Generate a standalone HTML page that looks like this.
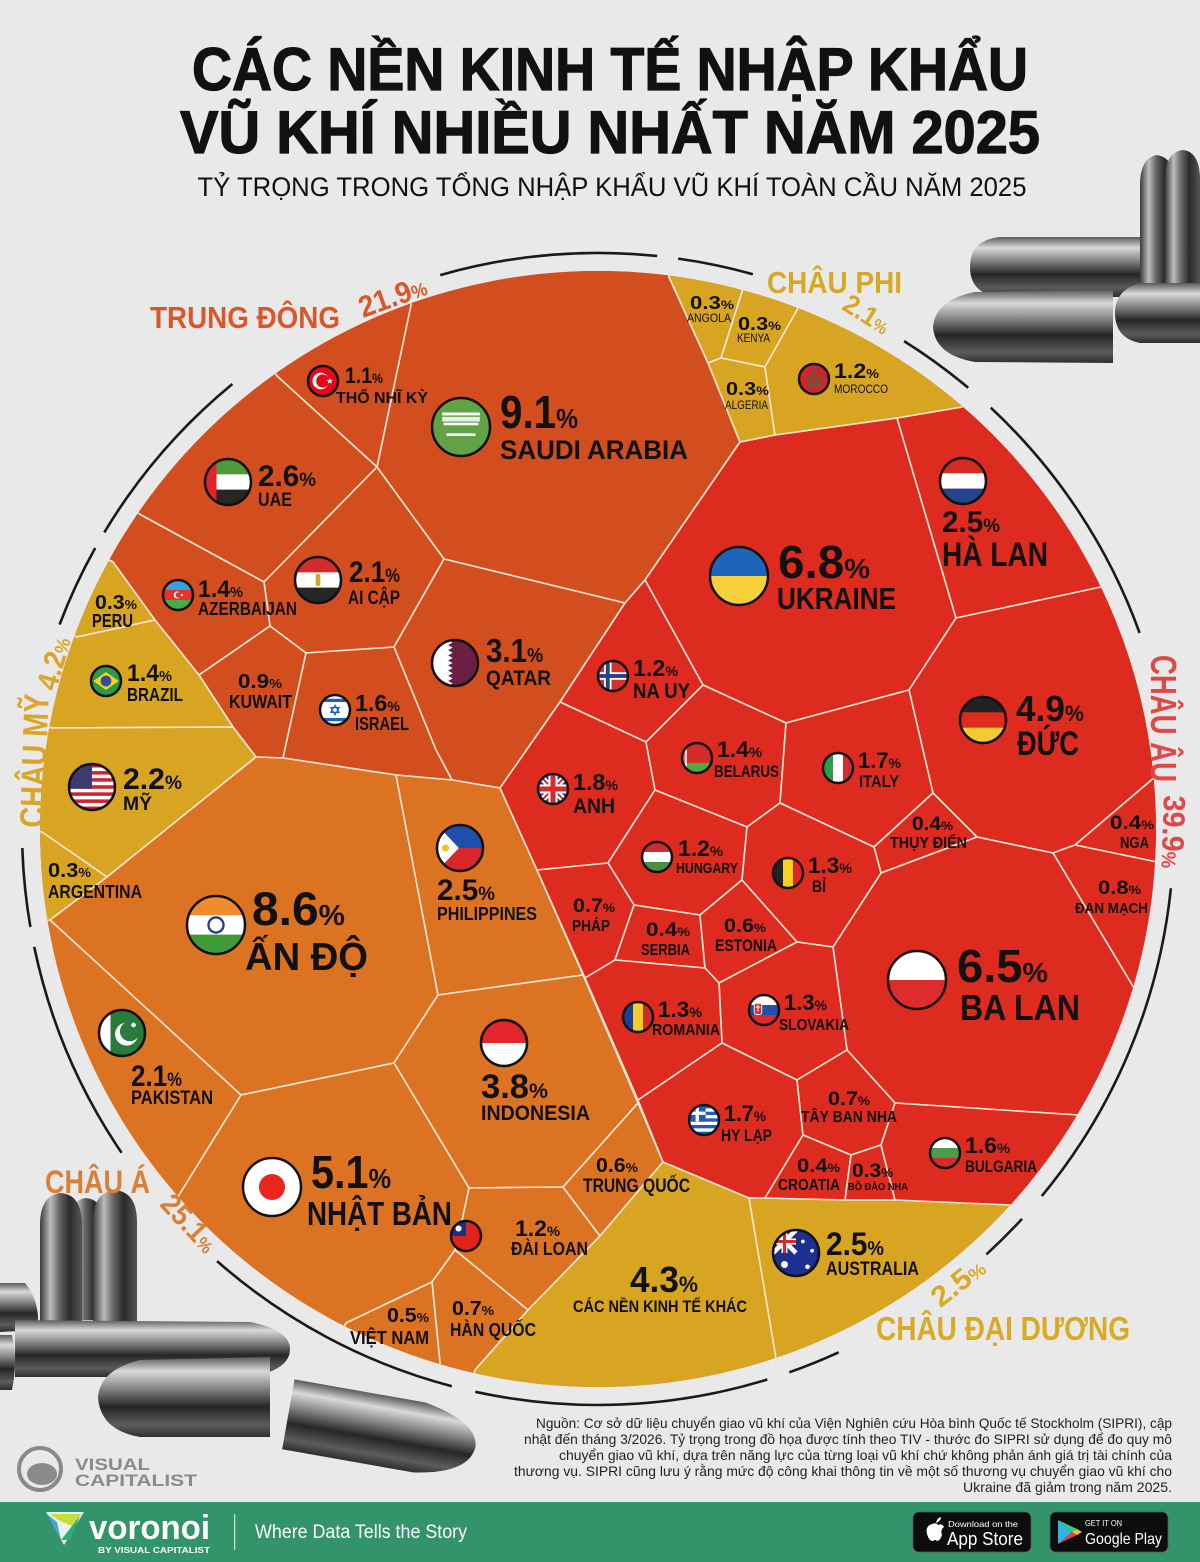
<!DOCTYPE html>
<html><head><meta charset="utf-8">
<style>
html,body{margin:0;padding:0;background:#e9e9e9;width:1200px;height:1562px;overflow:hidden;}
svg{display:block;}
.b{font-family:"Liberation Sans",sans-serif;font-weight:700;fill:#111;}
.t{font-family:"Liberation Sans",sans-serif;font-weight:400;fill:#111;}
.cell{stroke:#f7e6d4;stroke-width:1.6;stroke-linejoin:round;}
.me{fill:#d24e1f;}
.eu{fill:#de2b20;}
.as{fill:#db7323;}
.gd{fill:#d7a521;}
.fo{fill:none;stroke:#111;stroke-width:2.5;}
.arc{fill:none;stroke:#1a1a1a;stroke-width:2.6;}
</style></head>
<body>
<svg width="1200" height="1562" viewBox="0 0 1200 1562" xmlns="http://www.w3.org/2000/svg" overflow="hidden">
<defs>
<clipPath id="circ"><circle cx="598" cy="829" r="558"/></clipPath>
<clipPath id="cf"><circle r="10"/></clipPath>
<linearGradient id="bh" x1="0" y1="0" x2="0" y2="1">
<stop offset="0" stop-color="#5a5a5a"/><stop offset="0.18" stop-color="#d9d9d9"/><stop offset="0.38" stop-color="#8a8a8a"/><stop offset="0.62" stop-color="#262626"/><stop offset="0.85" stop-color="#5c5c5c"/><stop offset="1" stop-color="#2e2e2e"/>
</linearGradient>
<linearGradient id="bv" x1="0" y1="0" x2="1" y2="0">
<stop offset="0" stop-color="#3a3a3a"/><stop offset="0.25" stop-color="#bdbdbd"/><stop offset="0.45" stop-color="#6a6a6a"/><stop offset="0.7" stop-color="#2a2a2a"/><stop offset="1" stop-color="#555"/>
</linearGradient>
</defs>

<rect width="1200" height="1562" fill="#e9e9e9"/>

<!-- Title -->
<text class="b" x="610" y="90" font-size="60" text-anchor="middle" textLength="836" lengthAdjust="spacingAndGlyphs" stroke="#111" stroke-width="1.2">CÁC NỀN KINH TẾ NHẬP KHẨU</text>
<text class="b" x="610" y="153" font-size="60" text-anchor="middle" textLength="860" lengthAdjust="spacingAndGlyphs" stroke="#111" stroke-width="1.2">VŨ KHÍ NHIỀU NHẤT NĂM 2025</text>
<text class="t" x="612" y="196" font-size="27" text-anchor="middle" textLength="829" lengthAdjust="spacingAndGlyphs" fill="#1a1a1a">TỶ TRỌNG TRONG TỔNG NHẬP KHẨU VŨ KHÍ TOÀN CẦU NĂM 2025</text>

<!-- Bullets top right -->
<g>
<path d="M1140,290 L1140,185 Q1140,158 1157,155 Q1175,158 1175,185 L1175,290 Z" fill="url(#bv)"/>
<path d="M1165,290 L1165,180 Q1165,152 1183,150 Q1200,152 1200,180 L1200,290 Z" fill="url(#bv)"/>
<path d="M1140,237 L1000,237 Q970,240 970,267 Q970,294 1000,297 L1140,297 Z" fill="url(#bh)"/>
<path d="M1200,283 L1140,283 Q1115,290 1115,313 Q1115,338 1140,343 L1200,343 Z" fill="url(#bh)"/>
<path d="M1113,290 L975,292 Q935,300 933,327 Q935,355 975,362 L1113,363 Z" fill="url(#bh)"/>
</g>

<!-- Bullets bottom left -->
<g>
<path d="M68,1320 L68,1228 Q68,1200 86,1198 Q105,1200 105,1228 L105,1320 Z" fill="url(#bv)"/>
<path d="M40,1325 L40,1225 Q40,1195 61,1193 Q82,1195 82,1225 L82,1325 Z" fill="url(#bv)"/>
<path d="M93,1325 L93,1222 Q93,1192 115,1190 Q137,1192 137,1222 L137,1325 Z" fill="url(#bv)"/>
<path d="M0,1283 L25,1283 Q40,1300 38,1330 L0,1332 Z" fill="url(#bh)"/>
<path d="M0,1335 L12,1335 Q18,1360 12,1390 L0,1390 Z" fill="url(#bh)"/>
<path d="M15,1320 L250,1322 Q290,1330 290,1349 Q290,1370 250,1377 L15,1377 Z" fill="url(#bh)"/>
<path d="M270,1357 L140,1360 Q100,1370 98,1397 Q100,1430 140,1437 L270,1437 Z" fill="url(#bh)"/>
<g transform="rotate(10 380 1430)"><path d="M287,1395 L420,1395 Q475,1405 477,1430 Q475,1458 420,1466 L287,1466 Z" fill="url(#bh)"/></g>
</g>

<!-- Voronoi cells -->
<g clip-path="url(#circ)">
<circle cx="598" cy="829" r="558" fill="#de2b20"/>
<!-- Middle East -->
<polygon class="cell me" points="411,305 377,467 444,559 625,603 645,580 740,442 708,363 669,277 683.2,166.6 373.6,200.2"/>
<polygon class="cell me" points="277,376 377,467 411,305 373.6,200.2 212.8,285.4"/>
<polygon class="cell me" points="141,515 264,582 377,467 277,376 212.8,285.4 49.6,452.2"/>
<polygon class="cell me" points="264,582 377,467 444,559 394,647 306,653 270,626"/>
<polygon class="cell me" points="113,562 155,620 199,675 270,626 264,582 141,515 49.6,452.2 16,508.6"/>
<polygon class="cell me" points="444,559 625,603 560,702 500,788 452,780 436,750 394,647"/>
<polygon class="cell me" points="199,675 270,626 306,653 283,758 256,757 233,727"/>
<polygon class="cell me" points="306,653 394,647 436,750 452,780 396,775 283,758"/>
<!-- Americas -->
<polygon class="cell gd" points="77,637 155,620 113,562 16,508.6 -27.2,598.6"/>
<polygon class="cell gd" points="52,728 233,727 199,675 155,620 77,637 -27.2,598.6 -57.2,707.8"/>
<polygon class="cell gd" points="42,832 107,877 256,757 233,727 52,728 -57.2,707.8 -69.2,832.6"/>
<polygon class="cell gd" points="50,920 107,877 42,832 -69.2,832.6 -59.6,938.2"/>
<!-- Asia -->
<polygon class="cell as" points="50,920 107,877 256,757 283,758 396,775 438,995 394,1063 241,1095"/>
<polygon class="cell as" points="176,1200 241,1095 50,920 -59.6,938.2 91.6,1274.2"/>
<polygon class="cell as" points="396,775 452,780 500,788 537,870 583,975 438,995"/>
<polygon class="cell as" points="438,995 583,975 638,1103 563,1187 469,1188 394,1063"/>
<polygon class="cell as" points="241,1095 394,1063 469,1188 459,1235 455,1250 432,1282 346,1323 295.6,1421.8 91.6,1274.2 176,1200"/>
<polygon class="cell as" points="469,1188 563,1187 600,1236 528,1310 455,1250 459,1235"/>
<polygon class="cell as" points="563,1187 638,1103 663,1162 600,1236"/>
<polygon class="cell as" points="455,1250 528,1310 475,1370 450.4,1478.2 408.4,1469.8 440,1363 432,1282"/>
<polygon class="cell as" points="432,1282 440,1363 408.4,1469.8 295.6,1421.8 346,1323"/>
<!-- Other + Oceania -->
<polygon class="cell gd" points="663,1162 749,1198 776,1358 811.6,1463.8 450.4,1478.2 475,1370 528,1310 600,1236"/>
<polygon class="cell gd" points="749,1198 765,1198 845,1200 895,1200 1011,1205 1093.6,1280.2 811.6,1463.8 776,1358"/>
<!-- Europe -->
<polygon class="cell eu" points="740,442 775,435 897,418 956,618 909,690 786,723 703,685 645,580"/>
<polygon class="cell eu" points="897,418 962,407 1034.8,322.6 1201.6,538.6 1101,587 956,618"/>
<polygon class="cell eu" points="956,618 1101,587 1201.6,538.6 1266.4,766.6 1155,777 1075,845 1053,853 977,837 933,793 909,690"/>
<polygon class="cell eu" points="645,580 703,685 646,742 560,702 625,603"/>
<polygon class="cell eu" points="560,702 646,742 655,790 608,863 537,870 500,788"/>
<polygon class="cell eu" points="703,685 786,723 780,803 747,827 655,790 646,742"/>
<polygon class="cell eu" points="786,723 909,690 933,793 874,847 780,803"/>
<polygon class="cell eu" points="933,793 977,837 881,873 874,847"/>
<polygon class="cell eu" points="1075,845 1155,777 1266.4,766.6 1268.8,868.6 1157,862"/>
<polygon class="cell eu" points="1075,845 1157,862 1268.8,868.6 1241.2,1019.8 1134,988 1053,853"/>
<polygon class="cell eu" points="977,837 1053,853 1134,988 1241.2,1019.8 1174,1172.2 1078,1115 895,1103 847,1050 833,947 881,873"/>
<polygon class="cell eu" points="655,790 747,827 742,880 700,915 634,905 608,863"/>
<polygon class="cell eu" points="780,803 874,847 881,873 833,947 797,942 742,880 747,827"/>
<polygon class="cell eu" points="537,870 608,863 634,905 615,960 585,978"/>
<polygon class="cell eu" points="634,905 700,915 705,968 615,960"/>
<polygon class="cell eu" points="700,915 742,880 797,942 719,983 705,968"/>
<polygon class="cell eu" points="797,942 833,947 847,1050 797,1080 722,1043 719,983"/>
<polygon class="cell eu" points="585,978 615,960 705,968 719,983 722,1043 638,1100"/>
<polygon class="cell eu" points="638,1100 722,1043 797,1080 803,1135 765,1198 749,1198 663,1162"/>
<polygon class="cell eu" points="797,1080 847,1050 895,1103 881,1145 851,1155 803,1135"/>
<polygon class="cell eu" points="803,1135 851,1155 845,1200 765,1198"/>
<polygon class="cell eu" points="851,1155 881,1145 895,1200 845,1200"/>
<polygon class="cell eu" points="895,1103 1078,1115 1174,1172.2 1093.6,1280.2 1011,1205 895,1200 881,1145"/>
<!-- Africa -->
<polygon class="cell gd" points="669,277 708,363 721,358 742,292 770.8,184.6 683.2,166.6"/>
<polygon class="cell gd" points="742,292 721,358 765,367 797,310 836.8,206.2 770.8,184.6"/>
<polygon class="cell gd" points="708,363 721,358 765,367 775,435 740,442"/>
<polygon class="cell gd" points="797,310 765,367 775,435 897,418 962,407 1034.8,322.6 836.8,206.2"/>
</g>

<!-- Outer arcs -->
<g class="arc">
<path d="M440.2,275.1 A576,576 0 0 1 657.2,256.0"/>
<path d="M678.2,258.6 A576,576 0 0 1 752.9,274.2"/>
<path d="M904.1,341.1 A576,576 0 0 1 968.2,387.8"/>
<path d="M990.8,407.7 A576,576 0 0 1 1139.6,632.9"/>
<path d="M1170.9,888.2 A576,576 0 0 1 1041.8,1196.1"/>
<path d="M1022.0,1218.9 A576,576 0 0 1 986.4,1254.4"/>
<path d="M838.7,1352.3 A576,576 0 0 1 789.3,1372.3"/>
<path d="M767.3,1379.5 A576,576 0 0 1 475.3,1391.8"/>
<path d="M451.8,1386.2 A576,576 0 0 1 217.1,1261.1"/>
<path d="M121.6,1152.8 A576,576 0 0 1 34.2,946.8"/>
<path d="M30.4,927.0 A576,576 0 0 1 22.3,848.1"/>
<path d="M59.6,624.5 A576,576 0 0 1 95.2,548.0"/>
<path d="M104.3,532.4 A576,576 0 0 1 232.4,384.0"/>
</g>

<!-- Region labels -->
<text class="b" x="150" y="328" font-size="31" style="fill:#d9582b" textLength="190" lengthAdjust="spacingAndGlyphs">TRUNG ĐÔNG</text>
<text class="b" transform="translate(396,306) rotate(-20)" font-size="30" style="fill:#d9582b" text-anchor="middle" textLength="70" lengthAdjust="spacingAndGlyphs">21.9<tspan font-size="19">%</tspan></text>
<text class="b" x="767" y="293" font-size="31" style="fill:#d8a824" textLength="135" lengthAdjust="spacingAndGlyphs">CHÂU PHI</text>
<text class="b" transform="translate(862,322) rotate(32)" font-size="27" style="fill:#d8a824" text-anchor="middle" textLength="50" lengthAdjust="spacingAndGlyphs">2.1<tspan font-size="17">%</tspan></text>
<text class="b" transform="translate(1151,655) rotate(90)" font-size="36" style="fill:#e04848" textLength="127" lengthAdjust="spacingAndGlyphs">CHÂU ÂU</text>
<text class="b" transform="translate(1164,795) rotate(92)" font-size="31" style="fill:#e04848" textLength="73" lengthAdjust="spacingAndGlyphs">39.9<tspan font-size="20">%</tspan></text>
<text class="b" transform="translate(44,828) rotate(-88)" font-size="35" style="fill:#d9a62a" textLength="134" lengthAdjust="spacingAndGlyphs">CHÂU MỸ</text>
<text class="b" transform="translate(56,692) rotate(-74)" font-size="30" style="fill:#d9a62a" textLength="54" lengthAdjust="spacingAndGlyphs">4.2<tspan font-size="19">%</tspan></text>
<text class="b" x="45" y="1193" font-size="32" style="fill:#d7803a" textLength="105" lengthAdjust="spacingAndGlyphs">CHÂU Á</text>
<text class="b" transform="translate(182,1230) rotate(47)" font-size="29" style="fill:#d7803a" text-anchor="middle" textLength="68" lengthAdjust="spacingAndGlyphs">25.1<tspan font-size="18">%</tspan></text>
<text class="b" transform="translate(964,1290) rotate(-38)" font-size="29" style="fill:#d9aa24" text-anchor="middle" textLength="60" lengthAdjust="spacingAndGlyphs">2.5<tspan font-size="18">%</tspan></text>
<text class="b" x="876" y="1340" font-size="33" style="fill:#d9aa24" textLength="254" lengthAdjust="spacingAndGlyphs">CHÂU ĐẠI DƯƠNG</text>

<!-- Flags -->
<g>
<g transform="translate(323,381)"><g transform="scale(1.5)" clip-path="url(#cf)"><rect x="-10" y="-10" width="20" height="20" fill="#e30a17"/><circle cx="-1.5" r="5.5" fill="#fff"/><circle cx="-0.2" r="4.4" fill="#e30a17"/><polygon points="4.5,-2 5.1,-0.6 6.6,-0.6 5.4,0.3 5.9,1.8 4.5,0.9 3.1,1.8 3.6,0.3 2.4,-0.6 3.9,-0.6" fill="#fff"/></g><circle r="15" class="fo"/></g>
<g transform="translate(461,427)"><g transform="scale(2.9)" clip-path="url(#cf)"><rect x="-10" y="-10" width="20" height="20" fill="#62a246"/><rect x="-6.5" y="-5" width="13" height="1" fill="#fff"/><rect x="-6.5" y="-3.5" width="13" height="1.6" fill="#fff" opacity=".85"/><rect x="-6" y="-1.5" width="12" height="0.9" fill="#fff"/><rect x="-5" y="2.2" width="10" height="0.9" fill="#fff"/></g><circle r="29" class="fo"/></g>
<g transform="translate(228,482)"><g transform="scale(2.3)" clip-path="url(#cf)"><rect x="-10" y="-10" width="20" height="6.7" fill="#4e9a3a"/><rect x="-10" y="-3.33" width="20" height="6.7" fill="#fff"/><rect x="-10" y="3.33" width="20" height="6.7" fill="#262626"/><rect x="-10" y="-10" width="5" height="20" fill="#e0262b"/></g><circle r="23" class="fo"/></g>
<g transform="translate(318,580)"><g transform="scale(2.3)" clip-path="url(#cf)"><rect x="-10" y="-10" width="20" height="6.7" fill="#d52b2b"/><rect x="-10" y="-3.33" width="20" height="6.7" fill="#fff"/><rect x="-10" y="3.33" width="20" height="6.7" fill="#262626"/><rect x="-1" y="-2.5" width="2" height="5" fill="#d4a52a"/></g><circle r="23" class="fo"/></g>
<g transform="translate(178,595)"><g transform="scale(1.5)" clip-path="url(#cf)"><rect x="-10" y="-10" width="20" height="6.7" fill="#3b9fd9"/><rect x="-10" y="-3.33" width="20" height="6.7" fill="#e3342b"/><rect x="-10" y="3.33" width="20" height="6.7" fill="#4aab47"/><circle cx="-0.5" r="2.4" fill="#fff"/><circle cx="0.3" r="1.9" fill="#e3342b"/><circle cx="2.6" r="0.8" fill="#fff"/></g><circle r="15" class="fo"/></g>
<g transform="translate(455,663)"><g transform="scale(2.3)" clip-path="url(#cf)"><rect x="-10" y="-10" width="20" height="20" fill="#6b1f43"/><polygon points="-10,-10 -3,-10 -1,-8.9 -3,-7.8 -1,-6.7 -3,-5.6 -1,-4.4 -3,-3.3 -1,-2.2 -3,-1.1 -1,0 -3,1.1 -1,2.2 -3,3.3 -1,4.4 -3,5.6 -1,6.7 -3,7.8 -1,8.9 -3,10 -10,10" fill="#fff"/></g><circle r="23" class="fo"/></g>
<g transform="translate(106,681)"><g transform="scale(1.5)" clip-path="url(#cf)"><rect x="-10" y="-10" width="20" height="20" fill="#2a9a48"/><polygon points="-8.5,0 0,-6 8.5,0 0,6" fill="#f5d31e"/><circle r="3.6" fill="#2f4fa0"/></g><circle r="15" class="fo"/></g>
<g transform="translate(335,710)"><g transform="scale(1.5)" clip-path="url(#cf)"><rect x="-10" y="-10" width="20" height="20" fill="#fff"/><rect x="-10" y="-7.5" width="20" height="2.2" fill="#1f5fbf"/><rect x="-10" y="5.3" width="20" height="2.2" fill="#1f5fbf"/><polygon points="0,-3.2 2.8,1.6 -2.8,1.6" fill="none" stroke="#1f5fbf" stroke-width="0.8"/><polygon points="0,3.2 2.8,-1.6 -2.8,-1.6" fill="none" stroke="#1f5fbf" stroke-width="0.8"/></g><circle r="15" class="fo"/></g>
<g transform="translate(92,787)"><g transform="scale(2.3)" clip-path="url(#cf)"><rect x="-10" y="-10" width="20" height="20" fill="#fff"/><rect x="-10" y="-10" width="20" height="1.54" fill="#d0232e"/><rect x="-10" y="-6.92" width="20" height="1.54" fill="#d0232e"/><rect x="-10" y="-3.85" width="20" height="1.54" fill="#d0232e"/><rect x="-10" y="-0.77" width="20" height="1.54" fill="#d0232e"/><rect x="-10" y="2.31" width="20" height="1.54" fill="#d0232e"/><rect x="-10" y="5.38" width="20" height="1.54" fill="#d0232e"/><rect x="-10" y="8.46" width="20" height="1.54" fill="#d0232e"/><rect x="-10" y="-10" width="10" height="10.77" fill="#3c3b6e"/></g><circle r="23" class="fo"/></g>
<g transform="translate(216,925)"><g transform="scale(2.9)" clip-path="url(#cf)"><rect x="-10" y="-10" width="20" height="6.7" fill="#f08b2e"/><rect x="-10" y="-3.33" width="20" height="6.7" fill="#fff"/><rect x="-10" y="3.33" width="20" height="6.7" fill="#3e9b38"/><circle r="2.6" fill="none" stroke="#1f3c8c" stroke-width="0.8"/></g><circle r="29" class="fo"/></g>
<g transform="translate(460,848)"><g transform="scale(2.3)" clip-path="url(#cf)"><rect x="-10" y="-10" width="20" height="10" fill="#1f4fa8"/><rect x="-10" y="0" width="20" height="10" fill="#d8262b"/><polygon points="-10,-10 -0.5,0 -10,10" fill="#fff"/><circle cx="-6.3" r="1.6" fill="#f2c420"/></g><circle r="23" class="fo"/></g>
<g transform="translate(122,1033)"><g transform="scale(2.3)" clip-path="url(#cf)"><rect x="-10" y="-10" width="20" height="20" fill="#2a7a3a"/><rect x="-10" y="-10" width="5" height="20" fill="#fff"/><circle cx="2" cy="0.5" r="5" fill="#fff"/><circle cx="3.4" cy="-0.7" r="4.3" fill="#2a7a3a"/><circle cx="5" cy="-3.5" r="1" fill="#fff"/></g><circle r="23" class="fo"/></g>
<g transform="translate(504,1043)"><g transform="scale(2.3)" clip-path="url(#cf)"><rect x="-10" y="-10" width="20" height="10" fill="#e3262b"/><rect x="-10" y="0" width="20" height="10" fill="#fff"/></g><circle r="23" class="fo"/></g>
<g transform="translate(272,1187)"><g transform="scale(2.9)" clip-path="url(#cf)"><rect x="-10" y="-10" width="20" height="20" fill="#fff"/><circle r="4.5" fill="#e8261f"/></g><circle r="29" class="fo"/></g>
<g transform="translate(466,1236)"><g transform="scale(1.5)" clip-path="url(#cf)"><rect x="-10" y="-10" width="20" height="20" fill="#e2231a"/><rect x="-10" y="-10" width="10" height="10" fill="#1c2f8c"/><circle cx="-5" cy="-5" r="2" fill="#fff"/></g><circle r="15" class="fo"/></g>
<g transform="translate(796,1253)"><g transform="scale(2.3)" clip-path="url(#cf)"><rect x="-10" y="-10" width="20" height="20" fill="#1f2f8f"/><path d="M-10,-10 L0,0 M0,-10 L-10,0" stroke="#fff" stroke-width="2"/><path d="M-5,-10 V0 M-10,-5 H0" stroke="#fff" stroke-width="2.6"/><path d="M-5,-10 V0 M-10,-5 H0" stroke="#d52b2b" stroke-width="1.3"/><circle cx="-5" cy="5" r="1.5" fill="#fff"/><circle cx="5" cy="6" r="1" fill="#fff"/><circle cx="3" cy="-5" r="0.8" fill="#fff"/><circle cx="7" cy="-1" r="0.8" fill="#fff"/></g><circle r="23" class="fo"/></g>
<g transform="translate(814,379)"><g transform="scale(1.5)" clip-path="url(#cf)"><rect x="-10" y="-10" width="20" height="20" fill="#c7282d"/><polygon points="0,-4.5 1.3,-0.9 5,-0.9 2,1.3 3,4.8 0,2.7 -3,4.8 -2,1.3 -5,-0.9 -1.3,-0.9" fill="none" stroke="#2a7a3a" stroke-width="0.9"/></g><circle r="15" class="fo"/></g>
<g transform="translate(739,576)"><g transform="scale(2.9)" clip-path="url(#cf)"><rect x="-10" y="-10" width="20" height="10" fill="#1e64b8"/><rect x="-10" y="0" width="20" height="10" fill="#f6d03b"/></g><circle r="29" class="fo"/></g>
<g transform="translate(963,481)"><g transform="scale(2.3)" clip-path="url(#cf)"><rect x="-10" y="-10" width="20" height="6.7" fill="#d52b1e"/><rect x="-10" y="-3.33" width="20" height="6.7" fill="#fff"/><rect x="-10" y="3.33" width="20" height="6.7" fill="#23448c"/></g><circle r="23" class="fo"/></g>
<g transform="translate(983,720)"><g transform="scale(2.3)" clip-path="url(#cf)"><rect x="-10" y="-10" width="20" height="6.7" fill="#222"/><rect x="-10" y="-3.33" width="20" height="6.7" fill="#dd2b1c"/><rect x="-10" y="3.33" width="20" height="6.7" fill="#f3c934"/></g><circle r="23" class="fo"/></g>
<g transform="translate(613,676)"><g transform="scale(1.5)" clip-path="url(#cf)"><rect x="-10" y="-10" width="20" height="20" fill="#d8302c"/><rect x="-6" y="-10" width="5" height="20" fill="#fff"/><rect x="-10" y="-2.5" width="20" height="5" fill="#fff"/><rect x="-4.8" y="-10" width="2.6" height="20" fill="#23448c"/><rect x="-10" y="-1.3" width="20" height="2.6" fill="#23448c"/></g><circle r="15" class="fo"/></g>
<g transform="translate(553,789)"><g transform="scale(1.5)" clip-path="url(#cf)"><rect x="-10" y="-10" width="20" height="20" fill="#22408f"/><path d="M-10,-10 L10,10 M10,-10 L-10,10" stroke="#fff" stroke-width="4"/><path d="M-10,-10 L10,10 M10,-10 L-10,10" stroke="#d52b2b" stroke-width="1.3"/><path d="M0,-10 V10 M-10,0 H10" stroke="#fff" stroke-width="6"/><path d="M0,-10 V10 M-10,0 H10" stroke="#d52b2b" stroke-width="3.4"/></g><circle r="15" class="fo"/></g>
<g transform="translate(697,758)"><g transform="scale(1.5)" clip-path="url(#cf)"><rect x="-10" y="-10" width="20" height="13.3" fill="#d22d2b"/><rect x="-10" y="3.3" width="20" height="6.7" fill="#4cab3c"/><rect x="-10" y="-10" width="3.2" height="20" fill="#fff"/><rect x="-9.2" y="-10" width="1.4" height="20" fill="#d22d2b" opacity=".7"/></g><circle r="15" class="fo"/></g>
<g transform="translate(838,768)"><g transform="scale(1.5)" clip-path="url(#cf)"><rect x="-10" y="-10" width="6.7" height="20" fill="#2e9c47"/><rect x="-3.33" y="-10" width="6.7" height="20" fill="#fff"/><rect x="3.33" y="-10" width="6.7" height="20" fill="#d72a2e"/></g><circle r="15" class="fo"/></g>
<g transform="translate(657,857)"><g transform="scale(1.5)" clip-path="url(#cf)"><rect x="-10" y="-10" width="20" height="6.7" fill="#d12c30"/><rect x="-10" y="-3.33" width="20" height="6.7" fill="#fff"/><rect x="-10" y="3.33" width="20" height="6.7" fill="#4c8f3d"/></g><circle r="15" class="fo"/></g>
<g transform="translate(788,873)"><g transform="scale(1.5)" clip-path="url(#cf)"><rect x="-10" y="-10" width="6.7" height="20" fill="#222"/><rect x="-3.33" y="-10" width="6.7" height="20" fill="#f5d220"/><rect x="3.33" y="-10" width="6.7" height="20" fill="#e2232b"/></g><circle r="15" class="fo"/></g>
<g transform="translate(917,980)"><g transform="scale(2.9)" clip-path="url(#cf)"><rect x="-10" y="-10" width="20" height="10" fill="#fff"/><rect x="-10" y="0" width="20" height="10" fill="#dc2c2c"/></g><circle r="29" class="fo"/></g>
<g transform="translate(638,1017)"><g transform="scale(1.5)" clip-path="url(#cf)"><rect x="-10" y="-10" width="6.7" height="20" fill="#1d3f94"/><rect x="-3.33" y="-10" width="6.7" height="20" fill="#f3cd2a"/><rect x="3.33" y="-10" width="6.7" height="20" fill="#d22b2b"/></g><circle r="15" class="fo"/></g>
<g transform="translate(764,1010)"><g transform="scale(1.5)" clip-path="url(#cf)"><rect x="-10" y="-10" width="20" height="6.7" fill="#fff"/><rect x="-10" y="-3.33" width="20" height="6.7" fill="#1f4fa8"/><rect x="-10" y="3.33" width="20" height="6.7" fill="#e0262b"/><rect x="-6.5" y="-4.5" width="5" height="7.5" rx="1.5" fill="#e0262b" stroke="#fff" stroke-width="0.6"/><rect x="-4.4" y="-3.5" width="0.8" height="4.5" fill="#fff"/><rect x="-5.5" y="-2.3" width="3" height="0.7" fill="#fff"/></g><circle r="15" class="fo"/></g>
<g transform="translate(704,1120)"><g transform="scale(1.5)" clip-path="url(#cf)"><rect x="-10" y="-10" width="20" height="20" fill="#1f5db8"/><rect x="-10" y="-7.78" width="20" height="2.22" fill="#fff"/><rect x="-10" y="-3.33" width="20" height="2.22" fill="#fff"/><rect x="-10" y="1.11" width="20" height="2.22" fill="#fff"/><rect x="-10" y="5.56" width="20" height="2.22" fill="#fff"/><rect x="-10" y="-10" width="11.1" height="11.1" fill="#1f5db8"/><rect x="-5.6" y="-10" width="2.2" height="11.1" fill="#fff"/><rect x="-10" y="-5.6" width="11.1" height="2.2" fill="#fff"/></g><circle r="15" class="fo"/></g>
<g transform="translate(945,1153)"><g transform="scale(1.5)" clip-path="url(#cf)"><rect x="-10" y="-10" width="20" height="6.7" fill="#fff"/><rect x="-10" y="-3.33" width="20" height="6.7" fill="#4a9d4a"/><rect x="-10" y="3.33" width="20" height="6.7" fill="#d62b2b"/></g><circle r="15" class="fo"/></g>
</g>

<!-- Labels -->
<g>
<text class="b" x="345" y="383" font-size="22" textLength="38" lengthAdjust="spacingAndGlyphs">1.1<tspan font-size="14">%</tspan></text>
<text class="b" x="336" y="403" font-size="16" textLength="92" lengthAdjust="spacingAndGlyphs">THỔ NHĨ KỲ</text>
<text class="b" x="500" y="428" font-size="46" textLength="78" lengthAdjust="spacingAndGlyphs">9.1<tspan font-size="28">%</tspan></text>
<text class="b" x="500" y="459" font-size="27" textLength="188" lengthAdjust="spacingAndGlyphs">SAUDI ARABIA</text>
<text class="b" x="258" y="486" font-size="30" textLength="58" lengthAdjust="spacingAndGlyphs">2.6<tspan font-size="19">%</tspan></text>
<text class="b" x="258" y="506" font-size="19" textLength="34" lengthAdjust="spacingAndGlyphs">UAE</text>
<text class="b" x="349" y="582" font-size="30" textLength="51" lengthAdjust="spacingAndGlyphs">2.1<tspan font-size="19">%</tspan></text>
<text class="b" x="348" y="604" font-size="19" textLength="52" lengthAdjust="spacingAndGlyphs">AI CẬP</text>
<text class="b" x="198" y="597" font-size="24" textLength="45" lengthAdjust="spacingAndGlyphs">1.4<tspan font-size="15">%</tspan></text>
<text class="b" x="198" y="615" font-size="18" textLength="99" lengthAdjust="spacingAndGlyphs">AZERBAIJAN</text>
<text class="b" x="486" y="662" font-size="33" textLength="57" lengthAdjust="spacingAndGlyphs">3.1<tspan font-size="20">%</tspan></text>
<text class="b" x="486" y="685" font-size="21" textLength="65" lengthAdjust="spacingAndGlyphs">QATAR</text>
<text class="b" x="238" y="688" font-size="20" textLength="44" lengthAdjust="spacingAndGlyphs">0.9<tspan font-size="13">%</tspan></text>
<text class="b" x="229" y="708" font-size="18" textLength="63" lengthAdjust="spacingAndGlyphs">KUWAIT</text>
<text class="b" x="355" y="711" font-size="23" textLength="45" lengthAdjust="spacingAndGlyphs">1.6<tspan font-size="14">%</tspan></text>
<text class="b" x="355" y="730" font-size="18" textLength="54" lengthAdjust="spacingAndGlyphs">ISRAEL</text>
<text class="b" x="95" y="609" font-size="20" textLength="42" lengthAdjust="spacingAndGlyphs">0.3<tspan font-size="13">%</tspan></text>
<text class="b" x="92" y="627" font-size="18" textLength="41" lengthAdjust="spacingAndGlyphs">PERU</text>
<text class="b" x="127" y="681" font-size="24" textLength="45" lengthAdjust="spacingAndGlyphs">1.4<tspan font-size="15">%</tspan></text>
<text class="b" x="127" y="701" font-size="18" textLength="56" lengthAdjust="spacingAndGlyphs">BRAZIL</text>
<text class="b" x="123" y="789" font-size="30" textLength="59" lengthAdjust="spacingAndGlyphs">2.2<tspan font-size="19">%</tspan></text>
<text class="b" x="123" y="810" font-size="19" textLength="29" lengthAdjust="spacingAndGlyphs">MỸ</text>
<text class="b" x="48" y="877" font-size="20" textLength="43" lengthAdjust="spacingAndGlyphs">0.3<tspan font-size="13">%</tspan></text>
<text class="b" x="48" y="898" font-size="18" textLength="94" lengthAdjust="spacingAndGlyphs">ARGENTINA</text>
<text class="b" x="252" y="925" font-size="47" textLength="93" lengthAdjust="spacingAndGlyphs">8.6<tspan font-size="29">%</tspan></text>
<text class="b" x="245" y="970" font-size="39" textLength="123" lengthAdjust="spacingAndGlyphs">ẤN ĐỘ</text>
<text class="b" x="437" y="900" font-size="30" textLength="58" lengthAdjust="spacingAndGlyphs">2.5<tspan font-size="19">%</tspan></text>
<text class="b" x="437" y="920" font-size="18" textLength="100" lengthAdjust="spacingAndGlyphs">PHILIPPINES</text>
<text class="b" x="131" y="1086" font-size="30" textLength="51" lengthAdjust="spacingAndGlyphs">2.1<tspan font-size="19">%</tspan></text>
<text class="b" x="131" y="1104" font-size="19" textLength="82" lengthAdjust="spacingAndGlyphs">PAKISTAN</text>
<text class="b" x="481" y="1098" font-size="34" textLength="67" lengthAdjust="spacingAndGlyphs">3.8<tspan font-size="21">%</tspan></text>
<text class="b" x="481" y="1120" font-size="21" textLength="109" lengthAdjust="spacingAndGlyphs">INDONESIA</text>
<text class="b" x="311" y="1188" font-size="46" textLength="80" lengthAdjust="spacingAndGlyphs">5.1<tspan font-size="28">%</tspan></text>
<text class="b" x="307" y="1225" font-size="33" textLength="145" lengthAdjust="spacingAndGlyphs">NHẬT BẢN</text>
<text class="b" x="596" y="1172" font-size="20" textLength="42" lengthAdjust="spacingAndGlyphs">0.6<tspan font-size="13">%</tspan></text>
<text class="b" x="583" y="1192" font-size="19" textLength="107" lengthAdjust="spacingAndGlyphs">TRUNG QUỐC</text>
<text class="b" x="515" y="1236" font-size="22" textLength="45" lengthAdjust="spacingAndGlyphs">1.2<tspan font-size="14">%</tspan></text>
<text class="b" x="511" y="1255" font-size="18" textLength="77" lengthAdjust="spacingAndGlyphs">ĐÀI LOAN</text>
<text class="b" x="387" y="1322" font-size="20" textLength="42" lengthAdjust="spacingAndGlyphs">0.5<tspan font-size="13">%</tspan></text>
<text class="b" x="350" y="1344" font-size="18" textLength="79" lengthAdjust="spacingAndGlyphs">VIỆT NAM</text>
<text class="b" x="452" y="1315" font-size="20" textLength="42" lengthAdjust="spacingAndGlyphs">0.7<tspan font-size="13">%</tspan></text>
<text class="b" x="450" y="1336" font-size="18" textLength="86" lengthAdjust="spacingAndGlyphs">HÀN QUỐC</text>
<text class="b" x="630" y="1292" font-size="36" textLength="68" lengthAdjust="spacingAndGlyphs">4.3<tspan font-size="22">%</tspan></text>
<text class="b" x="573" y="1312" font-size="17" textLength="174" lengthAdjust="spacingAndGlyphs">CÁC NỀN KINH TẾ KHÁC</text>
<text class="b" x="826" y="1255" font-size="32" textLength="58" lengthAdjust="spacingAndGlyphs">2.5<tspan font-size="20">%</tspan></text>
<text class="b" x="826" y="1275" font-size="19" textLength="93" lengthAdjust="spacingAndGlyphs">AUSTRALIA</text>
<text class="b" x="690" y="309" font-size="18" textLength="44" lengthAdjust="spacingAndGlyphs">0.3<tspan font-size="12">%</tspan></text>
<text class="t" x="687" y="322" font-size="12" textLength="44" lengthAdjust="spacingAndGlyphs">ANGOLA</text>
<text class="b" x="738" y="330" font-size="18" textLength="43" lengthAdjust="spacingAndGlyphs">0.3<tspan font-size="12">%</tspan></text>
<text class="t" x="737" y="342" font-size="12" textLength="33" lengthAdjust="spacingAndGlyphs">KENYA</text>
<text class="b" x="726" y="395" font-size="18" textLength="43" lengthAdjust="spacingAndGlyphs">0.3<tspan font-size="12">%</tspan></text>
<text class="t" x="725" y="409" font-size="12" textLength="43" lengthAdjust="spacingAndGlyphs">ALGERIA</text>
<text class="b" x="834" y="378" font-size="21" textLength="45" lengthAdjust="spacingAndGlyphs">1.2<tspan font-size="13">%</tspan></text>
<text class="t" x="834" y="393" font-size="12" textLength="54" lengthAdjust="spacingAndGlyphs">MOROCCO</text>
<text class="b" x="778" y="578" font-size="46" textLength="92" lengthAdjust="spacingAndGlyphs">6.8<tspan font-size="28">%</tspan></text>
<text class="b" x="777" y="609" font-size="31" textLength="119" lengthAdjust="spacingAndGlyphs">UKRAINE</text>
<text class="b" x="942" y="532" font-size="30" textLength="58" lengthAdjust="spacingAndGlyphs">2.5<tspan font-size="19">%</tspan></text>
<text class="b" x="942" y="566" font-size="34" textLength="106" lengthAdjust="spacingAndGlyphs">HÀ LAN</text>
<text class="b" x="1016" y="721" font-size="36" textLength="68" lengthAdjust="spacingAndGlyphs">4.9<tspan font-size="22">%</tspan></text>
<text class="b" x="1017" y="755" font-size="34" textLength="62" lengthAdjust="spacingAndGlyphs">ĐỨC</text>
<text class="b" x="633" y="676" font-size="23" textLength="45" lengthAdjust="spacingAndGlyphs">1.2<tspan font-size="14">%</tspan></text>
<text class="b" x="633" y="698" font-size="21" textLength="57" lengthAdjust="spacingAndGlyphs">NA UY</text>
<text class="b" x="573" y="790" font-size="23" textLength="45" lengthAdjust="spacingAndGlyphs">1.8<tspan font-size="14">%</tspan></text>
<text class="b" x="573" y="813" font-size="21" textLength="42" lengthAdjust="spacingAndGlyphs">ANH</text>
<text class="b" x="717" y="757" font-size="22" textLength="45" lengthAdjust="spacingAndGlyphs">1.4<tspan font-size="14">%</tspan></text>
<text class="b" x="714" y="777" font-size="17" textLength="65" lengthAdjust="spacingAndGlyphs">BELARUS</text>
<text class="b" x="858" y="768" font-size="22" textLength="43" lengthAdjust="spacingAndGlyphs">1.7<tspan font-size="14">%</tspan></text>
<text class="b" x="859" y="787" font-size="17" textLength="40" lengthAdjust="spacingAndGlyphs">ITALY</text>
<text class="b" x="678" y="856" font-size="22" textLength="45" lengthAdjust="spacingAndGlyphs">1.2<tspan font-size="14">%</tspan></text>
<text class="b" x="676" y="873" font-size="15" textLength="62" lengthAdjust="spacingAndGlyphs">HUNGARY</text>
<text class="b" x="808" y="873" font-size="22" textLength="44" lengthAdjust="spacingAndGlyphs">1.3<tspan font-size="14">%</tspan></text>
<text class="b" x="812" y="892" font-size="17" textLength="14" lengthAdjust="spacingAndGlyphs">BỈ</text>
<text class="b" x="912" y="830" font-size="19" textLength="41" lengthAdjust="spacingAndGlyphs">0.4<tspan font-size="12">%</tspan></text>
<text class="b" x="890" y="848" font-size="16" textLength="77" lengthAdjust="spacingAndGlyphs">THỤY ĐIỂN</text>
<text class="b" x="1110" y="829" font-size="19" textLength="44" lengthAdjust="spacingAndGlyphs">0.4<tspan font-size="12">%</tspan></text>
<text class="b" x="1120" y="848" font-size="16" textLength="29" lengthAdjust="spacingAndGlyphs">NGA</text>
<text class="b" x="1098" y="894" font-size="19" textLength="43" lengthAdjust="spacingAndGlyphs">0.8<tspan font-size="12">%</tspan></text>
<text class="b" x="1075" y="913" font-size="15" textLength="73" lengthAdjust="spacingAndGlyphs">ĐAN MẠCH</text>
<text class="b" x="957" y="982" font-size="46" textLength="91" lengthAdjust="spacingAndGlyphs">6.5<tspan font-size="28">%</tspan></text>
<text class="b" x="960" y="1020" font-size="36" textLength="120" lengthAdjust="spacingAndGlyphs">BA LAN</text>
<text class="b" x="573" y="912" font-size="19" textLength="42" lengthAdjust="spacingAndGlyphs">0.7<tspan font-size="12">%</tspan></text>
<text class="b" x="572" y="931" font-size="16" textLength="38" lengthAdjust="spacingAndGlyphs">PHÁP</text>
<text class="b" x="646" y="936" font-size="19" textLength="44" lengthAdjust="spacingAndGlyphs">0.4<tspan font-size="12">%</tspan></text>
<text class="b" x="641" y="955" font-size="16" textLength="49" lengthAdjust="spacingAndGlyphs">SERBIA</text>
<text class="b" x="724" y="932" font-size="19" textLength="42" lengthAdjust="spacingAndGlyphs">0.6<tspan font-size="12">%</tspan></text>
<text class="b" x="715" y="951" font-size="17" textLength="62" lengthAdjust="spacingAndGlyphs">ESTONIA</text>
<text class="b" x="658" y="1017" font-size="22" textLength="44" lengthAdjust="spacingAndGlyphs">1.3<tspan font-size="14">%</tspan></text>
<text class="b" x="652" y="1035" font-size="16" textLength="68" lengthAdjust="spacingAndGlyphs">ROMANIA</text>
<text class="b" x="784" y="1010" font-size="22" textLength="43" lengthAdjust="spacingAndGlyphs">1.3<tspan font-size="14">%</tspan></text>
<text class="b" x="779" y="1030" font-size="16" textLength="70" lengthAdjust="spacingAndGlyphs">SLOVAKIA</text>
<text class="b" x="724" y="1121" font-size="22" textLength="42" lengthAdjust="spacingAndGlyphs">1.7<tspan font-size="14">%</tspan></text>
<text class="b" x="721" y="1141" font-size="17" textLength="51" lengthAdjust="spacingAndGlyphs">HY LẠP</text>
<text class="b" x="828" y="1105" font-size="19" textLength="42" lengthAdjust="spacingAndGlyphs">0.7<tspan font-size="12">%</tspan></text>
<text class="b" x="801" y="1122" font-size="16" textLength="96" lengthAdjust="spacingAndGlyphs">TÂY BAN NHA</text>
<text class="b" x="797" y="1172" font-size="19" textLength="43" lengthAdjust="spacingAndGlyphs">0.4<tspan font-size="12">%</tspan></text>
<text class="b" x="778" y="1190" font-size="16" textLength="62" lengthAdjust="spacingAndGlyphs">CROATIA</text>
<text class="b" x="852" y="1177" font-size="19" textLength="41" lengthAdjust="spacingAndGlyphs">0.3<tspan font-size="12">%</tspan></text>
<text class="b" x="848" y="1190" font-size="10" textLength="60" lengthAdjust="spacingAndGlyphs">BỒ ĐÀO NHA</text>
<text class="b" x="965" y="1153" font-size="22" textLength="45" lengthAdjust="spacingAndGlyphs">1.6<tspan font-size="14">%</tspan></text>
<text class="b" x="965" y="1172" font-size="17" textLength="72" lengthAdjust="spacingAndGlyphs">BULGARIA</text>
</g>

<!-- Source note -->
<g class="t" font-size="14" text-anchor="end" style="fill:#222">
<text x="1172" y="1428" textLength="636" lengthAdjust="spacingAndGlyphs">Nguồn: Cơ sở dữ liệu chuyển giao vũ khí của Viện Nghiên cứu Hòa bình Quốc tế Stockholm (SIPRI), cập</text>
<text x="1172" y="1444" textLength="648" lengthAdjust="spacingAndGlyphs">nhật đến tháng 3/2026. Tỷ trọng trong đồ họa được tính theo TIV - thước đo SIPRI sử dụng để đo quy mô</text>
<text x="1172" y="1460" textLength="613" lengthAdjust="spacingAndGlyphs">chuyển giao vũ khí, dựa trên năng lực của từng loại vũ khí chứ không phản ánh giá trị tài chính của</text>
<text x="1172" y="1476" textLength="658" lengthAdjust="spacingAndGlyphs">thương vụ. SIPRI cũng lưu ý rằng mức độ công khai thông tin về một số thương vụ chuyển giao vũ khí cho</text>
<text x="1172" y="1492" textLength="209" lengthAdjust="spacingAndGlyphs">Ukraine đã giảm trong năm 2025.</text>
</g>

<!-- Visual Capitalist logo -->
<g fill="#8a8a8a">
<circle cx="40" cy="1469" r="21" fill="none" stroke="#8a8a8a" stroke-width="4"/>
<ellipse cx="42" cy="1474" rx="15" ry="11"/>
<text class="b" x="75" y="1470" font-size="17" style="fill:#8a8a8a" textLength="75" lengthAdjust="spacingAndGlyphs">VISUAL</text>
<text class="b" x="75" y="1486" font-size="17" style="fill:#8a8a8a" textLength="122" lengthAdjust="spacingAndGlyphs">CAPITALIST</text>
</g>

<!-- Footer -->
<rect x="0" y="1502" width="1200" height="60" fill="#33936a"/>
<g>
<polygon points="46,1512 84,1512 64,1545" fill="#e8f5ee"/>
<polygon points="50,1514 82,1514 72,1526 58,1520" fill="#c9dc3a"/>
<polygon points="47,1514 57,1522 61,1540" fill="#47a6d8"/>
<polygon points="61,1540 72,1526 80,1516 70,1540" fill="#2fae6f"/>
</g>
<text class="b" x="89" y="1539" font-size="34" style="fill:#fff" textLength="121" lengthAdjust="spacingAndGlyphs">voronoi</text>
<text class="b" x="98" y="1553" font-size="8" style="fill:#fff" textLength="112" lengthAdjust="spacingAndGlyphs">BY VISUAL CAPITALIST</text>
<rect x="234" y="1514" width="1.2" height="36" fill="#cfe7da"/>
<text class="t" x="255" y="1538" font-size="19" style="fill:#fff" textLength="212" lengthAdjust="spacingAndGlyphs">Where Data Tells the Story</text>

<g>
<rect x="913" y="1512" width="118" height="40" rx="6" fill="#0d0d0d" stroke="#555" stroke-width="0.8"/>
<path d="M932,1524 Q936,1522 938,1525 Q942,1523 944,1527 Q940,1530 942,1535 Q940,1541 937,1541 Q935,1539 933,1541 Q929,1541 927,1534 Q925,1526 932,1524 Z" fill="#fff"/>
<path d="M936,1523 Q937,1518 941,1517 Q941,1521 936,1523 Z" fill="#fff"/>
<text class="t" x="948" y="1527" font-size="8.5" style="fill:#fff" textLength="70" lengthAdjust="spacingAndGlyphs">Download on the</text>
<text class="t" x="947" y="1545" font-size="18" style="fill:#fff" textLength="76" lengthAdjust="spacingAndGlyphs">App Store</text>
<rect x="1050" y="1512" width="118" height="40" rx="6" fill="#0d0d0d" stroke="#555" stroke-width="0.8"/>
<polygon points="1058,1520 1072,1532 1058,1544" fill="#2fb3e8"/>
<polygon points="1058,1520 1077,1529 1072,1532" fill="#3bd16f"/>
<polygon points="1058,1544 1077,1535 1072,1532" fill="#e8413a"/>
<polygon points="1077,1529 1082,1532 1077,1535 1072,1532" fill="#f7c326"/>
<text class="t" x="1085" y="1526" font-size="8" style="fill:#fff" textLength="37" lengthAdjust="spacingAndGlyphs">GET IT ON</text>
<text class="t" x="1085" y="1544" font-size="16" style="fill:#fff" textLength="77" lengthAdjust="spacingAndGlyphs">Google Play</text>
</g>
</svg>
</body></html>
